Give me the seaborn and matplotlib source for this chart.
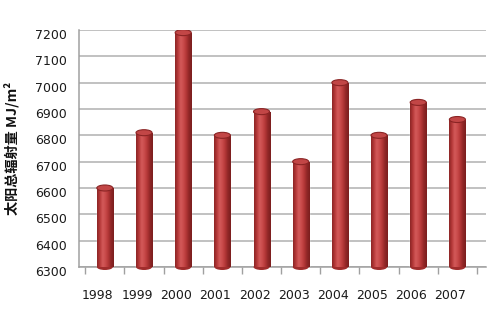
import numpy as np
import pandas as pd
import matplotlib
matplotlib.use("Agg")
import matplotlib.pyplot as plt
import matplotlib.transforms as mtransforms
from matplotlib.colors import LinearSegmentedColormap
from matplotlib.patches import Ellipse
import seaborn as sns

years = ["1998", "1999", "2000", "2001", "2002", "2003", "2004", "2005", "2006", "2007"]
radiation = [6600, 6810, 7190, 6800, 6890, 6700, 7000, 6800, 6925, 6860]
y_ticks = [6300, 6400, 6500, 6600, 6700, 6800, 6900, 7000, 7100, 7200]
y_label = "太阳总辐射量 MJ/m²"

sns.set_theme(style="white")
plt.rcParams['font.family'] = ['DejaVu Sans', 'Noto Sans CJK SC']

df = pd.DataFrame({"year": years, "value": radiation})

fig = plt.figure(figsize=(5.03, 3.13), dpi=100)
ax = fig.add_axes([79/503, 46/313, 407/503, 237/313])

sns.barplot(data=df, x="year", y="value", color="#b83a3a", width=0.41,
            ax=ax, saturation=1, zorder=3)

ymin, ymax = 6300, 7200
ax.set_yticks(y_ticks)
ax.yaxis.grid(True, color="#b0b0b0", linewidth=1.1, zorder=0)
ax.xaxis.grid(False)

cmap = LinearSegmentedColormap.from_list(
    "cyl", ["#8a2424", "#b43838", "#d45a5a", "#c94b4b", "#b33636", "#8e2626", "#7a1e1e"])
grad = np.linspace(0, 1, 256).reshape(1, -1)

px_per_unit = 237 / (ymax - ymin)
cap_h = 6 / px_per_unit
for p in ax.patches:
    x0, w = p.get_x(), p.get_width()
    top = p.get_y() + p.get_height()
    p.set_y(ymin)
    p.set_height(top - ymin)
    im = ax.imshow(grad, cmap=cmap, aspect="auto", extent=[x0, x0 + w, ymin, top],
                   zorder=4, interpolation="bicubic")
    im.set_clip_path(p)
    # rounded bottom
    eb = Ellipse((x0 + w / 2, ymin), w, cap_h, facecolor="#a02c2c", edgecolor="none",
                 zorder=3.5, clip_on=False)
    ax.add_patch(eb)
    # top cap
    et = Ellipse((x0 + w / 2, top), w, cap_h, facecolor="#c24646",
                 edgecolor="#8a2424", linewidth=0.8, zorder=5)
    ax.add_patch(et)

ax.set_xlim(-0.66, 9.73)
ax.set_ylim(ymin, ymax)

for s in ["top", "right"]:
    ax.spines[s].set_visible(False)
for s in ["left", "bottom"]:
    ax.spines[s].set_color("#a0a0a0")
    ax.spines[s].set_linewidth(1.1)

ax.set_xticks(np.arange(-0.5, 10, 1), minor=True)
ax.tick_params(axis="x", which="minor", length=5, color="#a0a0a0", width=1, bottom=True, direction="out")
ax.tick_params(axis="x", which="major", length=0, pad=16, labelsize=9, labelcolor="#1a1a1a")
ax.tick_params(axis="y", which="major", length=0, pad=8.5, labelsize=9, labelcolor="#1a1a1a")

off_x = mtransforms.ScaledTranslation(-7 / 100, 0, fig.dpi_scale_trans)
for lab in ax.get_xticklabels():
    lab.set_transform(lab.get_transform() + off_x)
off_y = mtransforms.ScaledTranslation(0, -4 / 100, fig.dpi_scale_trans)
for lab in ax.get_yticklabels():
    lab.set_transform(lab.get_transform() + off_y)

ax.set_xlabel("")
ax.set_ylabel(y_label, fontsize=10.2, fontweight="bold",
              family=['Noto Sans CJK SC', 'DejaVu Sans'], color="#111111")
ax.yaxis.set_label_coords(-0.146, 0.5)

fig.savefig("out.png", dpi=100)
